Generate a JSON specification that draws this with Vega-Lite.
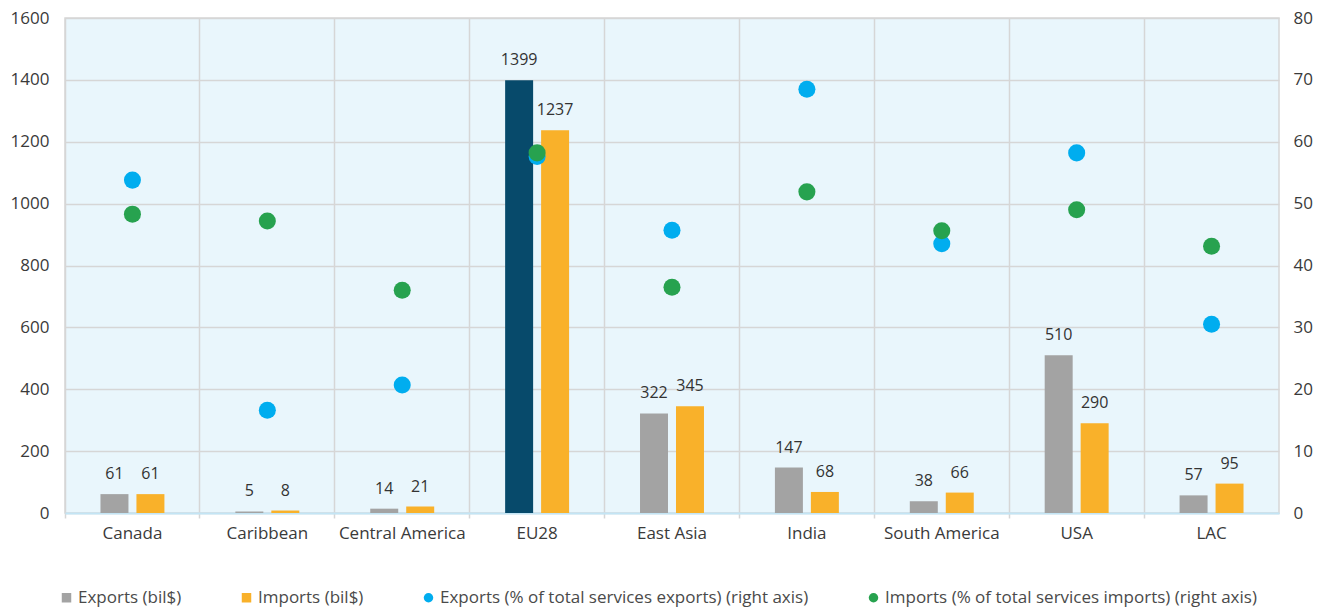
{
  "$schema": "https://vega.github.io/schema/vega-lite/v6.json",
  "autosize": {"type": "none"},
  "width": 1214,
  "height": 495,
  "padding": {"left": 65, "top": 18, "right": 48, "bottom": 96},
  "background": "#ffffff",
  "config": {
    "font": "Open Sans",
    "view": {"fill": "#e9f6fc", "stroke": "#d6d6d6", "strokeWidth": 1.5},
    "axis": {"labelColor": "#3a3a3a", "labelFont": "Open Sans", "title": null}
  },
  "datasets": {
    "trade": [
      {"region": "Canada", "series": "Exports (bil$)", "value": 61},
      {"region": "Canada", "series": "Imports (bil$)", "value": 61},
      {"region": "Caribbean", "series": "Exports (bil$)", "value": 5},
      {"region": "Caribbean", "series": "Imports (bil$)", "value": 8},
      {"region": "Central America", "series": "Exports (bil$)", "value": 14},
      {"region": "Central America", "series": "Imports (bil$)", "value": 21},
      {"region": "EU28", "series": "Exports (bil$)", "value": 1399},
      {"region": "EU28", "series": "Imports (bil$)", "value": 1237},
      {"region": "East Asia", "series": "Exports (bil$)", "value": 322},
      {"region": "East Asia", "series": "Imports (bil$)", "value": 345},
      {"region": "India", "series": "Exports (bil$)", "value": 147},
      {"region": "India", "series": "Imports (bil$)", "value": 68},
      {"region": "South America", "series": "Exports (bil$)", "value": 38},
      {"region": "South America", "series": "Imports (bil$)", "value": 66},
      {"region": "USA", "series": "Exports (bil$)", "value": 510},
      {"region": "USA", "series": "Imports (bil$)", "value": 290},
      {"region": "LAC", "series": "Exports (bil$)", "value": 57},
      {"region": "LAC", "series": "Imports (bil$)", "value": 95}
    ],
    "shares": [
      {"region": "Canada", "series": "Exports (% of total services exports) (right axis)", "pct": 53.8},
      {"region": "Canada", "series": "Imports (% of total services imports) (right axis)", "pct": 48.3},
      {"region": "Caribbean", "series": "Exports (% of total services exports) (right axis)", "pct": 16.6},
      {"region": "Caribbean", "series": "Imports (% of total services imports) (right axis)", "pct": 47.2},
      {"region": "Central America", "series": "Exports (% of total services exports) (right axis)", "pct": 20.7},
      {"region": "Central America", "series": "Imports (% of total services imports) (right axis)", "pct": 36.0},
      {"region": "EU28", "series": "Exports (% of total services exports) (right axis)", "pct": 57.6},
      {"region": "EU28", "series": "Imports (% of total services imports) (right axis)", "pct": 58.2},
      {"region": "East Asia", "series": "Exports (% of total services exports) (right axis)", "pct": 45.7},
      {"region": "East Asia", "series": "Imports (% of total services imports) (right axis)", "pct": 36.5},
      {"region": "India", "series": "Exports (% of total services exports) (right axis)", "pct": 68.5},
      {"region": "India", "series": "Imports (% of total services imports) (right axis)", "pct": 51.9},
      {"region": "South America", "series": "Exports (% of total services exports) (right axis)", "pct": 43.5},
      {"region": "South America", "series": "Imports (% of total services imports) (right axis)", "pct": 45.6},
      {"region": "USA", "series": "Exports (% of total services exports) (right axis)", "pct": 58.2},
      {"region": "USA", "series": "Imports (% of total services imports) (right axis)", "pct": 49.0},
      {"region": "LAC", "series": "Exports (% of total services exports) (right axis)", "pct": 30.5},
      {"region": "LAC", "series": "Imports (% of total services imports) (right axis)", "pct": 43.1}
    ]
  },
  "layer": [
    {
      "data": {"name": "trade"},
      "encoding": {
        "x": {
          "field": "region",
          "type": "nominal",
          "sort": ["Canada", "Caribbean", "Central America", "EU28", "East Asia", "India", "South America", "USA", "LAC"],
          "scale": {"paddingInner": 0, "paddingOuter": 0},
          "axis": {
            "labelAngle": 0,
            "labelFontSize": 17,
            "labelPadding": 7,
            "bandPosition": 0,
            "grid": true,
            "gridColor": "#d6d6d6",
            "gridWidth": 1.5,
            "tickColor": "#d6d6d6",
            "tickSize": 5,
            "tickWidth": 1.5,
            "domainColor": "#c3e5f5",
            "domainWidth": 2
          }
        },
        "xOffset": {
          "field": "series",
          "type": "nominal",
          "scale": {"domain": ["Exports (bil$)", "Imports (bil$)"], "paddingInner": 0.222, "paddingOuter": 0.986}
        },
        "y": {
          "field": "value",
          "type": "quantitative",
          "scale": {"domain": [0, 1600]},
          "axis": {
            "values": [0, 200, 400, 600, 800, 1000, 1200, 1400, 1600],
            "format": "d",
            "labelFontSize": 17,
            "labelPadding": 16,
            "ticks": false,
            "domain": false,
            "grid": true,
            "gridColor": "#d6d6d6",
            "gridWidth": 1.5
          }
        }
      },
      "layer": [
        {
          "mark": {"type": "bar"},
          "encoding": {
            "color": {
              "condition": {"test": "datum.region === 'EU28' && datum.series === 'Exports (bil$)'", "value": "#074a6b"},
              "field": "series",
              "type": "nominal",
              "scale": {
                "domain": ["Exports (bil$)", "Imports (bil$)", "Exports (% of total services exports) (right axis)", "Imports (% of total services imports) (right axis)"],
                "range": ["#a3a3a3", "#f9b12a", "#00adef", "#27a24f"]
              },
              "legend": {
                "orient": "none",
                "legendX": -7,
                "legendY": 571,
                "direction": "horizontal",
                "columns": 4,
                "columnPadding": 56,
                "title": null,
                "labelFont": "Open Sans",
                "labelFontSize": 17,
                "labelColor": "#4a4a4a",
                "labelLimit": 0,
                "labelOffset": 3,
                "symbolSize": 90,
                "symbolStrokeWidth": 0,
                "encode": {
                  "symbols": {
                    "update": {
                      "shape": {"signal": "indexof(datum.value, '%') >= 0 ? 'circle' : 'square'"}
                    }
                  }
                }
              }
            }
          }
        },
        {
          "mark": {"type": "text", "baseline": "bottom", "dy": -12, "fontSize": 16, "color": "#333333", "font": "Open Sans"},
          "encoding": {
            "text": {"field": "value", "type": "quantitative"}
          }
        }
      ]
    },
    {
      "data": {"name": "shares"},
      "mark": {"type": "point", "filled": true, "opacity": 1, "size": 290},
      "encoding": {
        "x": {
          "field": "region",
          "type": "nominal",
          "sort": ["Canada", "Caribbean", "Central America", "EU28", "East Asia", "India", "South America", "USA", "LAC"]
        },
        "y": {
          "field": "pct",
          "type": "quantitative",
          "scale": {"domain": [0, 80]},
          "axis": {
            "orient": "right",
            "values": [0, 10, 20, 30, 40, 50, 60, 70, 80],
            "labelFontSize": 17,
            "labelPadding": 14,
            "ticks": false,
            "domain": false,
            "grid": false
          }
        },
        "color": {"field": "series", "type": "nominal"}
      }
    }
  ],
  "resolve": {"scale": {"y": "independent"}, "axis": {"y": "independent"}}
}
